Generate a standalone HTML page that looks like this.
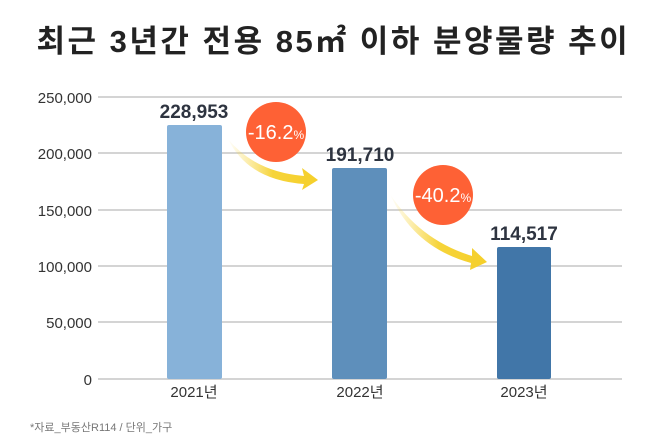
<!DOCTYPE html>
<html><head><meta charset="utf-8"><style>
body{margin:0;background:#fff;}
svg text{font-family:"Liberation Sans","Noto Sans CJK KR",sans-serif;}
</style></head><body>
<svg width="666" height="443" viewBox="0 0 666 443" xmlns="http://www.w3.org/2000/svg">
<defs>
<linearGradient id="ag" x1="0" y1="0" x2="1" y2="0">
<stop offset="0" stop-color="#f8d84a" stop-opacity="0"/>
<stop offset="0.5" stop-color="#f6d43a"/>
<stop offset="1" stop-color="#f5cf2a"/>
</linearGradient>
</defs>
<text x="333" y="52" text-anchor="middle" font-size="31" letter-spacing="1.8" font-weight="bold" fill="#222" textLength="593" lengthAdjust="spacing">최근 3년간 전용 85㎡ 이하 분양물량 추이</text>
<g stroke="#d4d4d4" stroke-width="2">
<line x1="98" y1="97" x2="622" y2="97"/>
<line x1="98" y1="153" x2="622" y2="153"/>
<line x1="98" y1="210" x2="622" y2="210"/>
<line x1="98" y1="266" x2="622" y2="266"/>
<line x1="98" y1="322" x2="622" y2="322"/>
<line x1="98" y1="379" x2="622" y2="379"/>
</g>
<g font-size="15" fill="#333" text-anchor="end">
<text x="92" y="103">250,000</text>
<text x="92" y="159">200,000</text>
<text x="92" y="216">150,000</text>
<text x="92" y="272">100,000</text>
<text x="92" y="328">50,000</text>
<text x="92" y="385">0</text>
</g>
<rect x="167" y="125" width="55" height="254" rx="2" fill="#87b2d9"/>
<rect x="332" y="168" width="55" height="211" rx="2" fill="#5e8fbb"/>
<rect x="497" y="247" width="54" height="132" rx="2" fill="#4176a8"/>
<g font-size="19" font-weight="bold" fill="#2e3440" text-anchor="middle">
<text x="194" y="118">228,953</text>
<text x="360" y="161">191,710</text>
<text x="524" y="240">114,517</text>
</g>
<g font-size="15" fill="#333" text-anchor="middle">
<text x="194" y="397">2021년</text>
<text x="360" y="397">2022년</text>
<text x="524" y="397">2023년</text>
</g>
<path d="M228,139 Q255,172 304,176 L302,168 L318,180 L302,190 L304,184 Q248,180 228,139Z" fill="url(#ag)"/>
<path d="M390,194 Q420,240 472,256 L472,248 L487,262 L470,270 L471,263 Q413,247 390,194Z" fill="url(#ag)"/>
<circle cx="276" cy="132" r="30" fill="#fe6135"/>
<circle cx="443" cy="195" r="30" fill="#fe6135"/>
<text x="276" y="139" text-anchor="middle" fill="#fff" font-size="20">-16.2<tspan font-size="12">%</tspan></text>
<text x="443" y="202" text-anchor="middle" fill="#fff" font-size="20">-40.2<tspan font-size="12">%</tspan></text>
<text x="30" y="431" font-size="11" fill="#777">*자료_부동산R114 / 단위_가구</text>
</svg>
</body></html>
